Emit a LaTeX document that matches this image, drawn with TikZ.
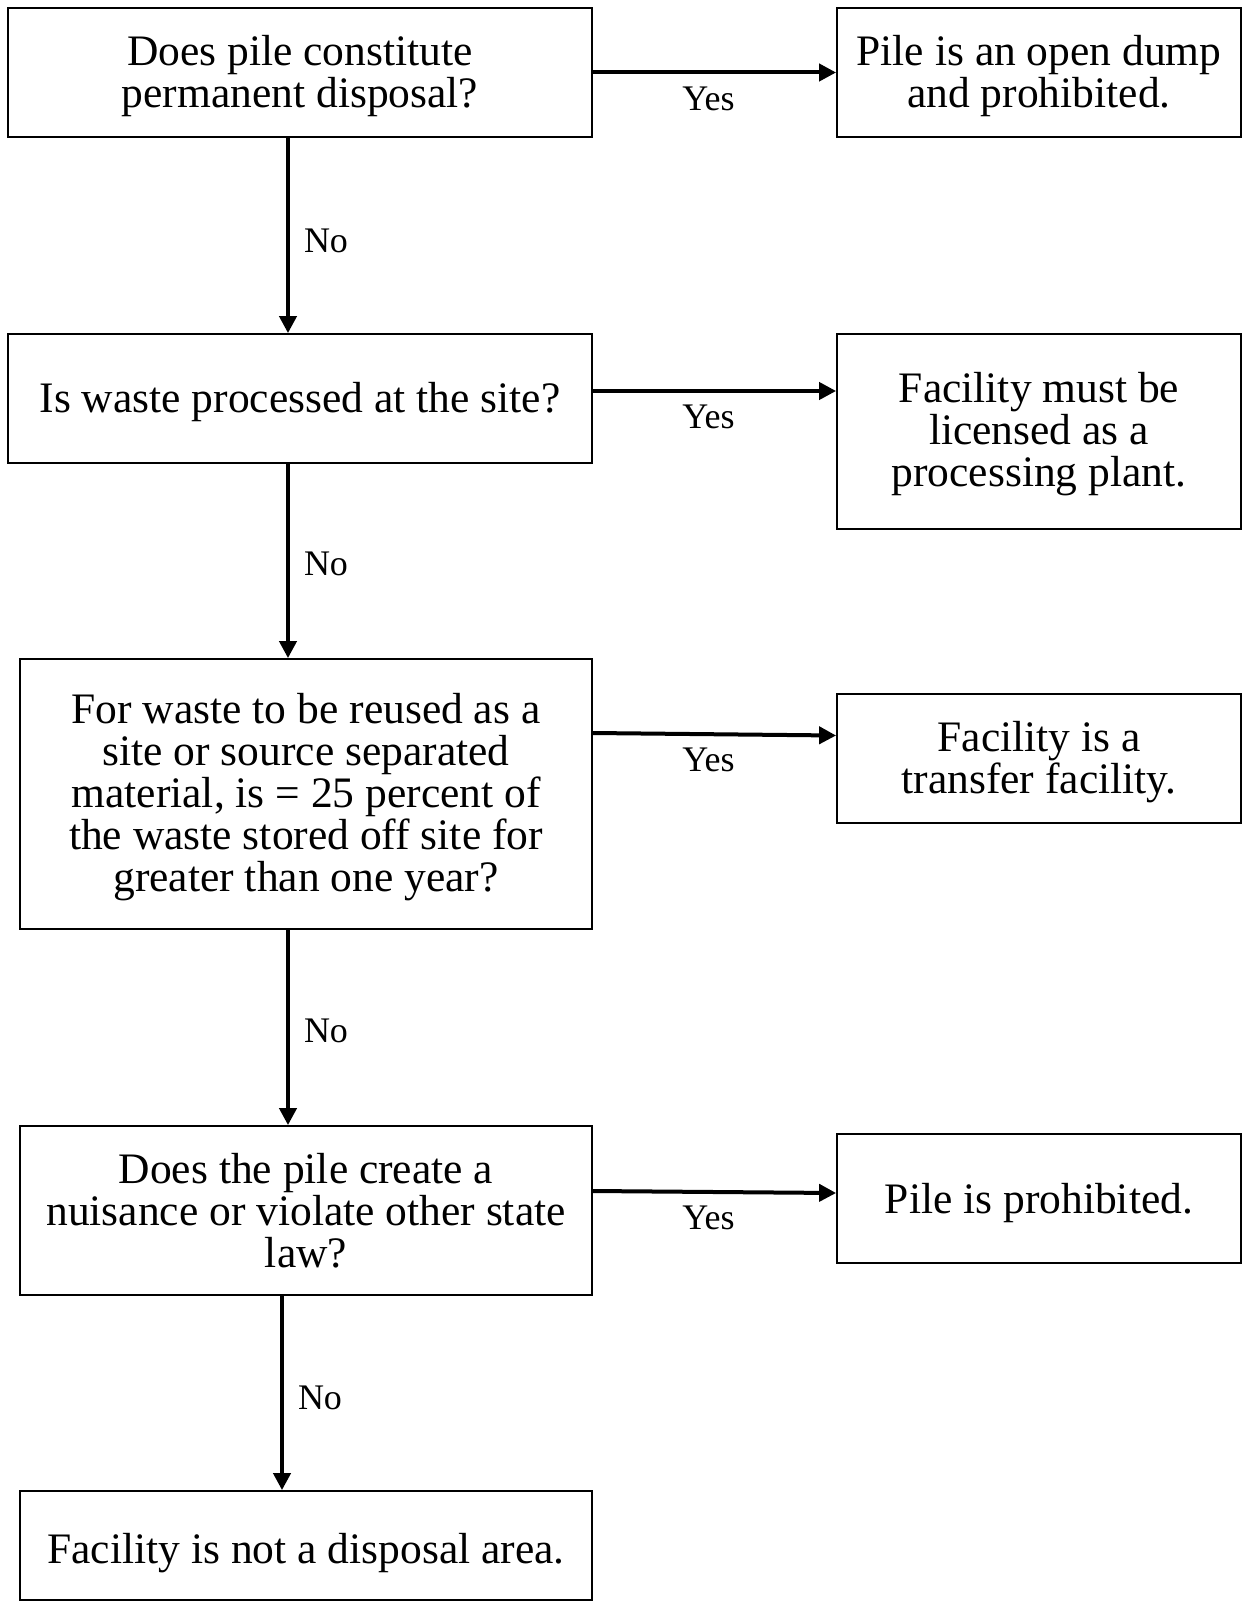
\documentclass[tikz,border=0pt]{standalone}
\usepackage{fontspec}
\setmainfont{Liberation Serif}
\usetikzlibrary{arrows.meta}
\newcommand{\lift}[1]{\rule{0pt}{#1}}

\begin{document}
\begin{tikzpicture}[x=1pt,y=-1pt,
  qbox/.style={draw, line width=1.8pt, align=center, inner sep=0pt, font=\fontsize{43.5}{42}\selectfont},
  flow/.style={line width=4pt, -{Triangle[length=17pt,width=17pt]}},
  lbl/.style={font=\fontsize{36}{40}\selectfont, inner sep=0pt}]
\useasboundingbox (0,0) rectangle (1243,1602);

% questions
\node[qbox, minimum width=584pt, minimum height=129pt] (q1) at (300,72.5) {\lift{38pt}Does pile constitute\\permanent disposal?};
\node[qbox, minimum width=584pt, minimum height=129pt] (q2) at (300,398.5) {\lift{38pt}Is waste processed at the site?};
\node[qbox, minimum width=572pt, minimum height=270pt] (q3) at (306,794) {\lift{36pt}For waste to be reused as a\\site or source separated\\material, is = 25 percent of\\the waste stored off site for\\greater than one year?};
\node[qbox, minimum width=572pt, minimum height=169pt] (q4) at (306,1210.5) {Does the pile create a\\nuisance or violate other state\\law?};
\node[qbox, minimum width=572pt, minimum height=109pt] (q5) at (306,1545.5) {\lift{46pt}Facility is not a disposal area.};

% outcomes
\node[qbox, minimum width=404pt, minimum height=129pt] (r1) at (1039,72.5) {\lift{38pt}Pile is an open dump\\and prohibited.};
\node[qbox, minimum width=404pt, minimum height=195pt] (r2) at (1039,431.5) {\lift{36pt}Facility must be\\licensed as a\\processing plant.};
\node[qbox, minimum width=404pt, minimum height=129pt] (r3) at (1039,758.5) {\lift{37pt}Facility is a\\transfer facility.};
\node[qbox, minimum width=404pt, minimum height=129pt] (r4) at (1039,1198.5) {\lift{40pt}Pile is prohibited.};

% yes arrows
\draw[flow] (q1.east) -- (r1.west) node[lbl, midway, below=12pt, xshift=-6pt] {Yes};
\draw[flow] ([yshift=7.5pt]q2.east) -- ([yshift=7.5pt]q2.east -| r2.west) node[lbl, midway, below=12pt, xshift=-6pt] {Yes};
\draw[flow] ([yshift=61pt]q3.east) -- ([yshift=23pt]r3.west) node[lbl, midway, below=12pt, xshift=-6pt] {Yes};
\draw[flow] ([yshift=19.5pt]q4.east) -- ([yshift=5.5pt]r4.west) node[lbl, midway, below=12pt, xshift=-6pt] {Yes};

% no arrows
\draw[flow] ([xshift=-12pt]q1.south) -- ([xshift=-12pt]q1.south |- q2.north) node[lbl, midway, right=14pt, yshift=-5pt] {No};
\draw[flow] ([xshift=-12pt]q2.south) -- ([xshift=-12pt]q2.south |- q3.north) node[lbl, midway, right=14pt, yshift=-3pt] {No};
\draw[flow] ([xshift=-18pt]q3.south) -- ([xshift=-18pt]q3.south |- q4.north) node[lbl, midway, right=14pt, yshift=-3pt] {No};
\draw[flow] ([xshift=-24pt]q4.south) -- ([xshift=-24pt]q4.south |- q5.north) node[lbl, midway, right=14pt, yshift=-5pt] {No};
\end{tikzpicture}
\end{document}
